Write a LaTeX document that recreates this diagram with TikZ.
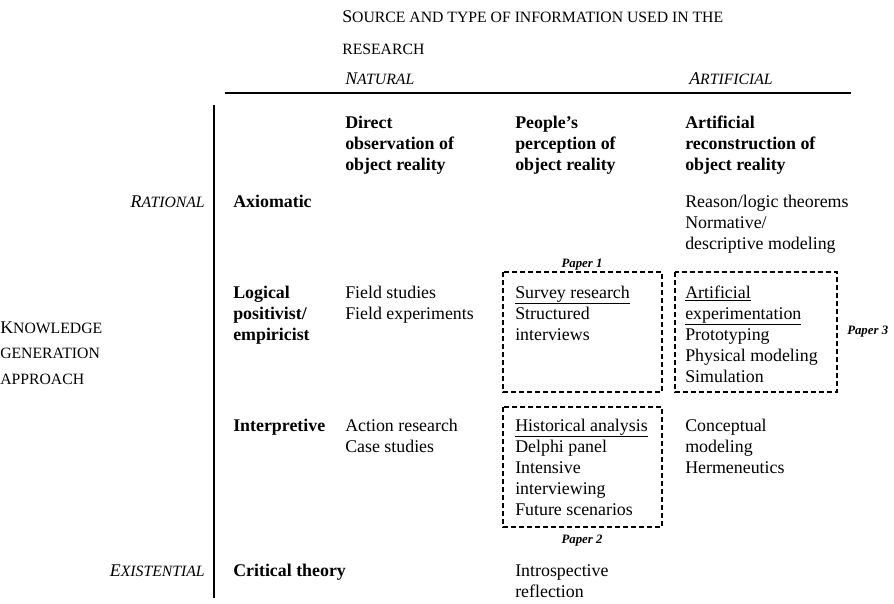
\documentclass[tikz,border=0pt]{standalone}
\usepackage{fontspec}
\setmainfont{Liberation Serif}
\usetikzlibrary{positioning}
% fake small caps: capitals set smaller
\newcommand{\smc}[1]{{\fontsize{11.8}{12}\selectfont #1}}
\tikzset{
  txt/.style={inner sep=0pt, anchor=base west, align=left, font=\fontsize{13.4}{15.75}\selectfont},
  hdr/.style={txt, font=\fontsize{13.4}{15.75}\selectfont\bfseries},
  axislbl/.style={inner sep=0pt, anchor=base east, font=\fontsize{13.4}{15.75}\selectfont\itshape},
  paperlbl/.style={inner sep=0pt, anchor=base, font=\fontsize{9.6}{11}\selectfont\bfseries\itshape},
  dashbox/.style={draw, dash pattern=on 3.6pt off 2.4pt, line width=0.8pt},
  rule/.style={draw, line width=0.9pt},
}

\begin{document}
\begin{tikzpicture}[x=0.75pt, y=-0.75pt]
  \useasboundingbox (0,0) rectangle (894,604);
  % multi-line nodes sit on the baseline of their last line

  % top header
  \node[txt, font=\fontsize{13.4}{24}\selectfont] (title) at (342,54)
    {S\smc{OURCE AND TYPE OF INFORMATION USED IN THE}\\\smc{RESEARCH}};
  \node[txt, font=\fontsize{13.4}{15.75}\selectfont\itshape] (natural) at (345,84) {N\smc{ATURAL}};
  \node[txt, font=\fontsize{13.4}{15.75}\selectfont\itshape] (artificial) at (689,84) {A\smc{RTIFICIAL}};
  \coordinate (hl) at (225,93);
  \coordinate (hr) at (851,93);
  \draw[rule] (hl) -- (hr);

  % left axis
  \coordinate (vt) at (214,105);
  \coordinate (vb) at (214,598);
  \draw[rule] (vt) -- (vb);
  \node[axislbl] (rational) at (205,207) {R\smc{ATIONAL}};
  \node[axislbl] (existential) at (205,576) {E\smc{XISTENTIAL}};
  \node[txt, font=\fontsize{13.4}{19}\selectfont] (knowledge) at (0,384)
    {K\smc{NOWLEDGE}\\\smc{GENERATION}\\\smc{APPROACH}};

  % column heads
  \node[hdr] (colDirect) at (345,170) {Direct\\observation of\\object reality};
  \node[hdr] (colPeople) at (515,170) {People's\\perception of\\object reality};
  \node[hdr] (colArtif) at (685,170) {Artificial\\reconstruction of\\object reality};

  % row heads
  \node[hdr] (rowAxiom) at (233,207) {Axiomatic};
  \node[hdr] (rowLogic) at (233,340) {Logical\\positivist/\\empiricist};
  \node[hdr] (rowInterp) at (233,431) {Interpretive};
  \node[hdr] (rowCrit) at (233,576) {Critical theory};

  % cells
  \node[txt] (axArtif) at (685,249) {Reason/logic theorems\\Normative/\\descriptive modeling};
  \node[txt] (lgDirect) at (345,319) {Field studies\\Field experiments};
  \node[txt] (lgPeople) at (515,340) {\underline{Survey research}\\Structured\\interviews};
  \node[txt] (lgArtif) at (685,382) {\underline{Artificial}\\\underline{experimentation}\\Prototyping\\Physical modeling\\Simulation};
  \node[txt] (inDirect) at (345,452) {Action research\\Case studies};
  \node[txt] (inPeople) at (515,515) {\underline{Historical analysis}\\Delphi panel\\Intensive\\interviewing\\Future scenarios};
  \node[txt] (inArtif) at (685,473) {Conceptual\\modeling\\Hermeneutics};
  \node[txt] (crPeople) at (515,597) {Introspective\\reflection};

  % paper boxes
  \draw[dashbox] (503,272) rectangle (662,392);
  \draw[dashbox] (675,272) rectangle (837,392);
  \draw[dashbox] (503,407) rectangle (662,527);
  \node[paperlbl] (paper1) at (582,267) {Paper 1};
  \node[paperlbl, anchor=base west] (paper3) at (847,334) {Paper 3};
  \node[paperlbl] (paper2) at (582,543) {Paper 2};
\end{tikzpicture}
\end{document}
